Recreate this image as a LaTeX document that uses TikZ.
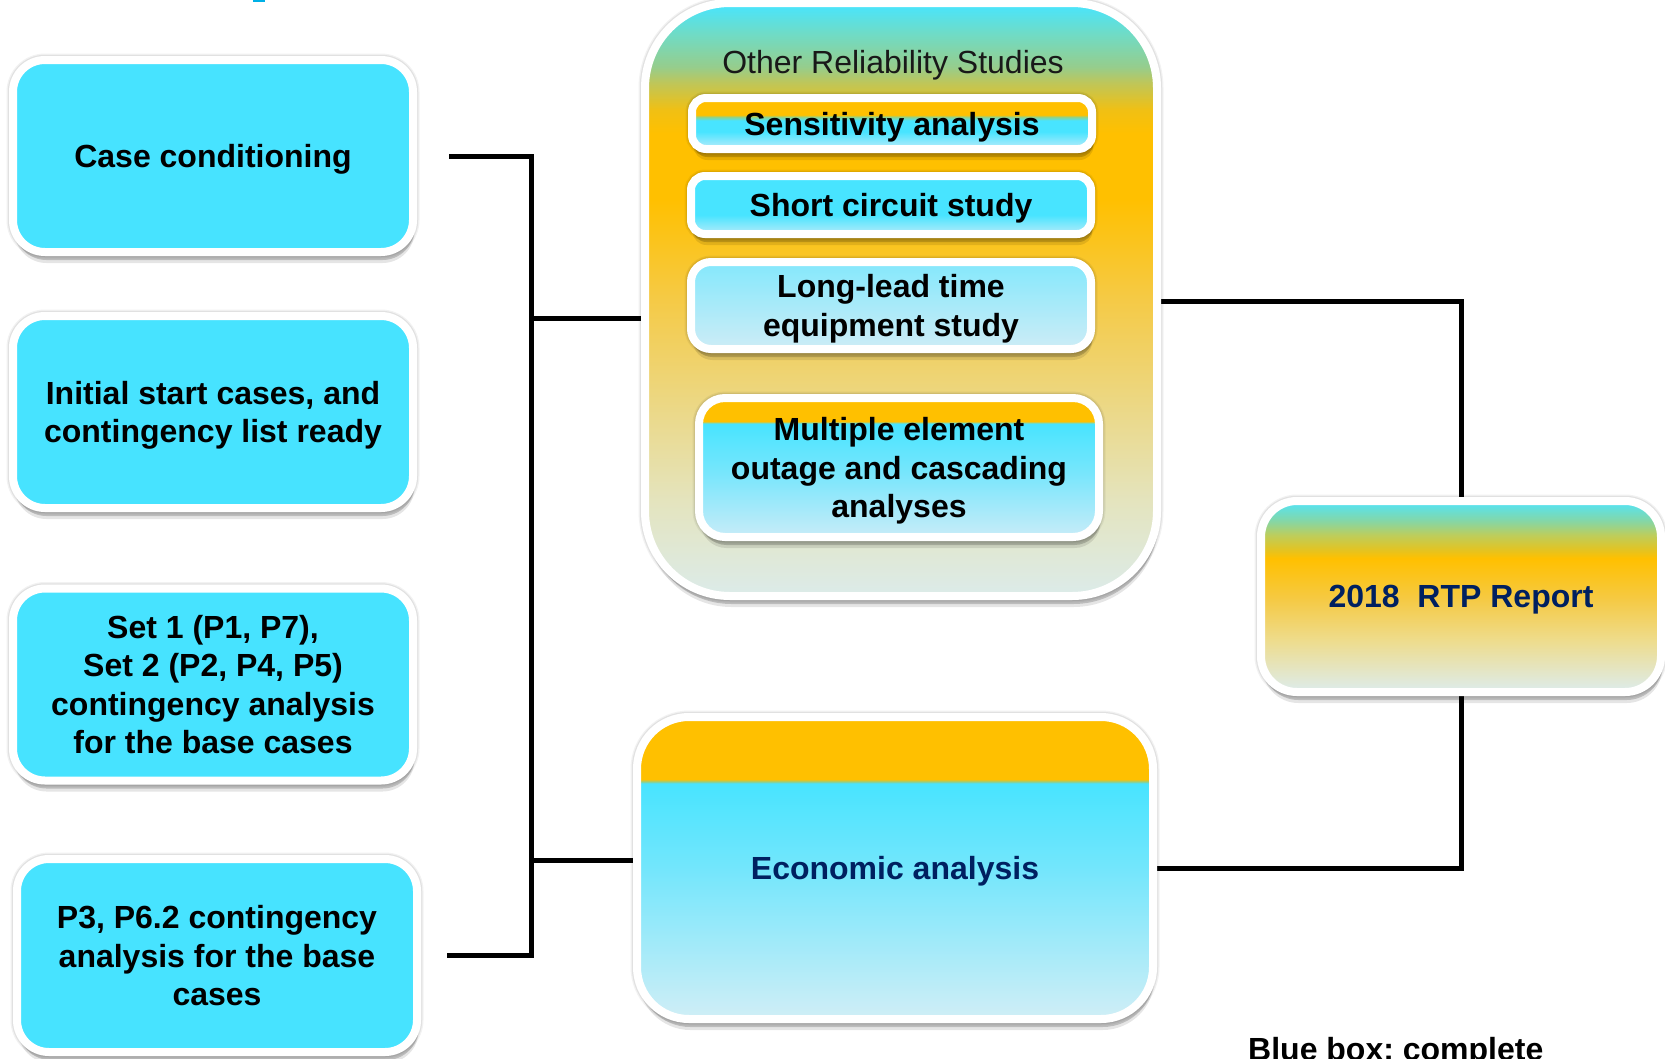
\documentclass[tikz,border=0pt]{standalone}
\usepackage{fontspec}
\setmainfont{Liberation Sans}
\usetikzlibrary{shadows,backgrounds}
\frenchspacing

\definecolor{cyL}{RGB}{71,227,255}
\definecolor{orng}{RGB}{255,192,0}
\definecolor{navy}{RGB}{0,32,96}
\definecolor{fragc}{RGB}{0,176,230}
% other reliability
\definecolor{r9}{RGB}{220,235,232}
\definecolor{r8}{RGB}{228,228,190}
\definecolor{r7}{RGB}{236,215,130}
\definecolor{r6}{RGB}{245,202,70}
\definecolor{r4}{RGB}{240,192,20}
\definecolor{r3}{RGB}{190,198,90}
\definecolor{r2}{RGB}{150,205,140}
\definecolor{r1}{RGB}{110,220,200}
\definecolor{r0}{RGB}{75,228,250}
% sub boxes
\definecolor{sbot}{RGB}{190,236,250}
\definecolor{cyM}{RGB}{72,228,255}
\definecolor{sgrn}{RGB}{150,210,130}
\definecolor{shbot}{RGB}{175,235,250}
\definecolor{ltop}{RGB}{132,232,252}
\definecolor{lbot}{RGB}{205,236,246}
\definecolor{mbot}{RGB}{200,236,248}
\definecolor{mmid}{RGB}{120,230,252}
\definecolor{ebot}{RGB}{208,238,246}
\definecolor{emid}{RGB}{115,230,252}
\definecolor{egrn}{RGB}{150,205,130}
\definecolor{t0}{RGB}{90,226,235}
\definecolor{t1}{RGB}{130,215,170}
\definecolor{t2}{RGB}{190,205,90}
\definecolor{t3}{RGB}{230,195,30}
\definecolor{t5}{RGB}{245,202,70}
\definecolor{t6}{RGB}{238,220,140}
\definecolor{t7}{RGB}{222,235,230}

\pgfdeclareverticalshading{relsh}{100bp}{color(0bp)=(r9); color(25.3bp)=(r9); color(33bp)=(r8); color(41.5bp)=(r7); color(50bp)=(r6); color(58.4bp)=(orng); color(64bp)=(orng); color(66bp)=(r4); color(68.3bp)=(r3); color(69.6bp)=(r2); color(72.5bp)=(r1); color(74.7bp)=(r0); color(100bp)=(r0)}
\pgfdeclareverticalshading{senssh}{100bp}{color(0bp)=(sbot); color(25bp)=(sbot); color(42bp)=(cyM); color(53bp)=(cyM); color(56.5bp)=(sgrn); color(58.5bp)=(orng); color(100bp)=(orng)}
\pgfdeclareverticalshading{shortsh}{100bp}{color(0bp)=(shbot); color(26bp)=(shbot); color(41.5bp)=(cyM); color(100bp)=(cyM)}
\pgfdeclareverticalshading{longsh}{100bp}{color(0bp)=(lbot); color(25bp)=(lbot); color(75bp)=(ltop); color(100bp)=(ltop)}
\pgfdeclareverticalshading{multsh}{100bp}{color(0bp)=(mbot); color(25bp)=(mbot); color(48bp)=(mmid); color(65.8bp)=(cyM); color(66.6bp)=(orng); color(100bp)=(orng)}
\pgfdeclareverticalshading{econsh}{100bp}{color(0bp)=(ebot); color(25bp)=(ebot); color(50bp)=(emid); color(64bp)=(cyM); color(64.3bp)=(egrn); color(64.7bp)=(orng); color(100bp)=(orng)}
\pgfdeclareverticalshading{rtpsh}{100bp}{color(0bp)=(t7); color(26bp)=(t7); color(38.6bp)=(t6); color(49bp)=(t5); color(60bp)=(orng); color(62bp)=(t3); color(66bp)=(t2); color(70bp)=(t1); color(74bp)=(t0); color(100bp)=(t0)}

\tikzset{
  bx/.style={draw=white, line width=8pt, align=center, inner sep=0pt, text depth=0pt,
    font=\bfseries\fontsize{32}{38.5}\selectfont,
    drop shadow={shadow xshift=1.5pt, shadow yshift=-11pt, opacity=.10, fill=black},
    drop shadow={shadow xshift=1.5pt, shadow yshift=-8pt, opacity=.18, fill=black},
    preaction={draw=black, draw opacity=.05, line width=13pt},
    preaction={draw=black, draw opacity=.07, line width=10.5pt}},
  leftbox/.style={bx, fill=cyL, rounded corners=32pt, minimum width=400pt, minimum height=192pt},
  conn/.style={line width=5pt, black},
}

\begin{document}
\begin{tikzpicture}[x=1pt, y=-1pt]
\useasboundingbox (0,0) rectangle (1665,1058);

% tiny clipped fragment at the top
\fill[fragc] (253,0) rectangle (265,2);

% left column
\node[leftbox] (b1) at (213,156) {Case conditioning};
\node[leftbox] (b2) at (213,412) {Initial start cases, and\\contingency list ready};
\node[leftbox] (b3) at (213,684.5) {Set 1 (P1, P7),\\Set 2 (P2, P4, P5)\\contingency analysis\\for the base cases};
\node[leftbox, minimum height=193pt] (b4) at (217,955.5) {P3, P6.2 contingency\\analysis for the base\\cases};

% other reliability studies
\node[bx, shading=relsh, rounded corners=85pt, minimum width=512pt, minimum height=593pt] (rel) at (901,299.5) {};
\node[anchor=base, inner sep=0pt, font=\fontsize{32}{38}\selectfont, text=black!90] (title) at (893,73) {Other Reliability Studies};
\node[bx, shading=senssh, rounded corners=14pt, minimum width=400pt, minimum height=51pt] (sens) at (892,123.5) {Sensitivity analysis};
\node[bx, shading=shortsh, rounded corners=14pt, minimum width=400pt, minimum height=58pt] (short) at (891,205) {Short circuit study};
\node[bx, shading=longsh, rounded corners=20pt, minimum width=400pt, minimum height=87pt] (long) at (891,305.5) {Long-lead time\\equipment study};
\node[bx, shading=multsh, rounded corners=26pt, minimum width=400pt, minimum height=139pt] (multi) at (899,467.5) {Multiple element\\outage and cascading\\analyses};

% economic analysis
\node[bx, shading=econsh, rounded corners=52pt, minimum width=516pt, minimum height=302pt, text=navy] (econ) at (895,868) {Economic analysis};

% report
\node[bx, shading=rtpsh, rounded corners=36pt, minimum width=400pt, minimum height=191pt, text=navy] (rtp) at (1461,596.5) {2018~~RTP Report};

% note (clipped at the bottom edge, as in the original)
\node[anchor=base west, inner sep=0pt, font=\bfseries\fontsize{32}{38}\selectfont] (note) at (1248,1060) {Blue box: complete};

% connectors
\coordinate (tt) at (531,0);
\coordinate (ja) at (531,318);
\coordinate (jb) at (531,860);
\coordinate (ra) at (1461,301);
\coordinate (rb) at (1461,868);
\begin{scope}[on background layer]
\draw[conn] ([xshift=32pt]b1.east) -| (tt |- b4.east) -- ([xshift=26pt]b4.east);
\draw[conn] (ja) -- (ja -| rel.west);
\draw[conn] (jb) -- (jb -| econ.west);
\draw[conn] (ra -| rel.east) -- (ra) -- (rtp.north);
\draw[conn] (rtp.south) -- (rb) -- (rb -| econ.east);
\end{scope}
\end{tikzpicture}
\end{document}
